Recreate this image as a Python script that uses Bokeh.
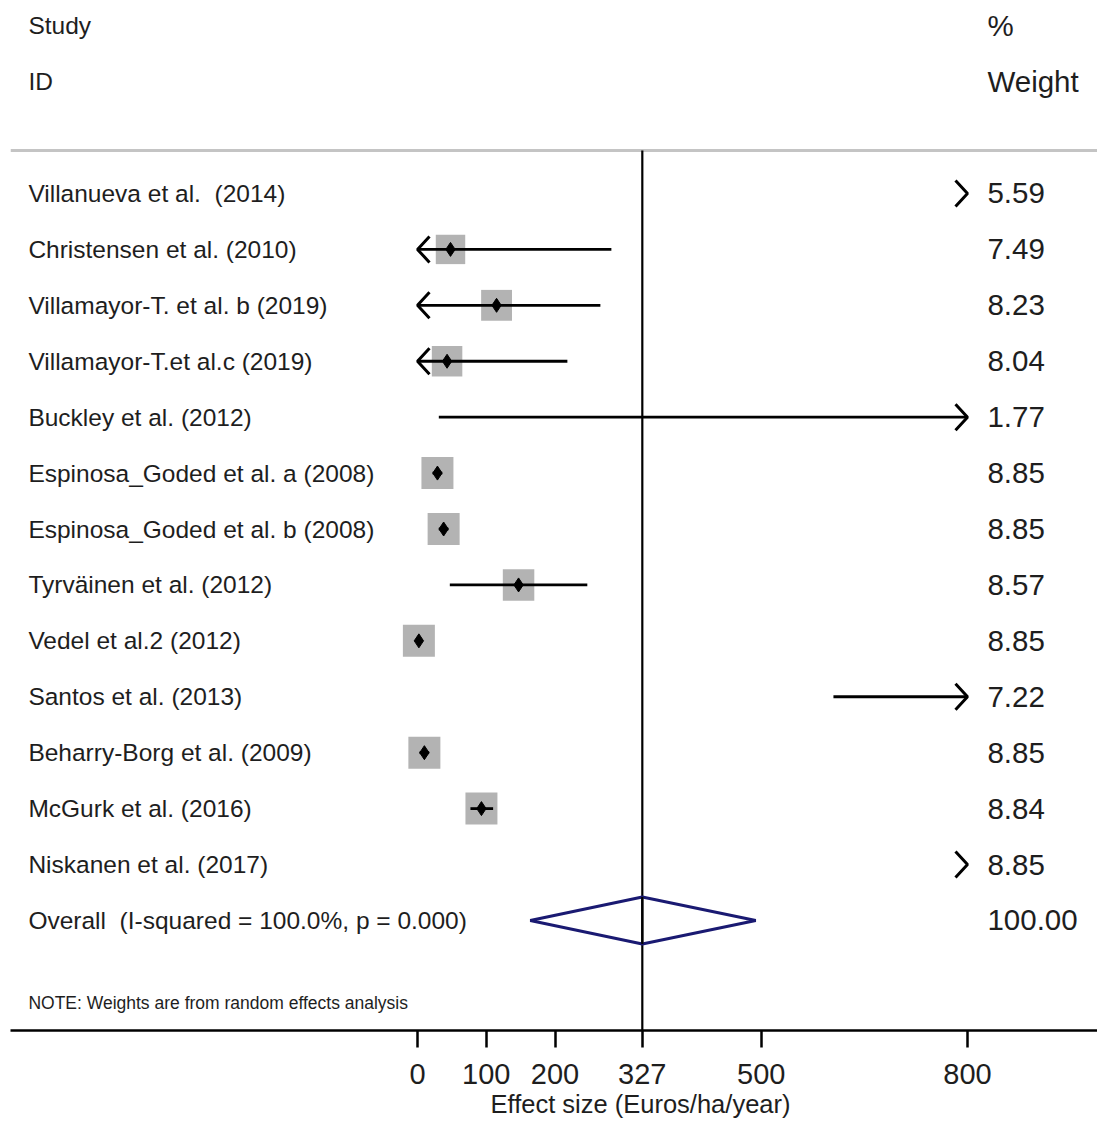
import math
from bokeh.plotting import figure
from bokeh.models import Range1d, FixedTicker, ColumnDataSource, Title
from bokeh.embed import file_html
from bokeh.resources import INLINE
from bokeh.core.properties import value

# ---------------- data ----------------
studies = [
    "Villanueva et al.\u00a0 (2014)",
    "Christensen et al. (2010)",
    "Villamayor-T. et al. b (2019)",
    "Villamayor-T.et al.c (2019)",
    "Buckley et al. (2012)",
    "Espinosa_Goded et al. a (2008)",
    "Espinosa_Goded et al. b (2008)",
    "Tyrväinen et al. (2012)",
    "Vedel et al.2 (2012)",
    "Santos et al. (2013)",
    "Beharry-Borg et al. (2009)",
    "McGurk et al. (2016)",
    "Niskanen et al. (2017)",
]
effect = [1000, 48, 115, 43, 900, 29, 38, 147, 2, 1100, 10, 93, 1050]
ci_low = [850, -150, -110, -130, 31, 22, 31, 47, 0.5, 605, 3, 77, 900]
ci_high = [1150, 282, 266, 218, 1800, 36, 45, 247, 3.5, 1600, 17, 110, 1200]
weights = [5.59, 7.49, 8.23, 8.04, 1.77, 8.85, 8.85, 8.57, 8.85, 7.22, 8.85, 8.84, 8.85]

overall_label = "Overall\u00a0 (I-squared = 100.0%, p = 0.000)"
overall_effect = 327
overall_low = 164
overall_high = 492
overall_weight = 100.00

tick_values = [0, 100, 200, 327, 500, 800]
axis_min, axis_max = 0, 800
note_text = "NOTE: Weights are from random effects analysis"
x_title = "Effect size (Euros/ha/year)"

# ---------------- layout ----------------
W, H = 1097, 1119
BORDER_L = 10
FRAME_W = W - BORDER_L
FRAME_H = 1030
x_start = -592.0
x_end = x_start + FRAME_W / 0.6875
y_bottom, y_top = 15.968, -2.451
ux = (x_end - x_start) / FRAME_W      # data units per px (x)
uy = (y_bottom - y_top) / FRAME_H     # row units per px (y)

LABEL_X = -566
WEIGHT_X = 829
FONT = "Liberation Sans"
TXT = "#1e1e1e"

p = figure(width=W, height=H, output_backend="svg", toolbar_location=None,
           x_range=Range1d(x_start, x_end), y_range=Range1d(y_bottom, y_top),
           min_border_left=BORDER_L, min_border_right=0, min_border_top=0,
           min_border_bottom=H - FRAME_H, background_fill_color="white",
           border_fill_color="white")
p.outline_line_color = None
p.grid.visible = False
p.yaxis.visible = False

ax = p.xaxis[0]
ax.ticker = FixedTicker(ticks=tick_values)
ax.axis_line_width = 2.5
ax.axis_line_color = "black"
ax.major_tick_line_width = 2.5
ax.major_tick_line_color = "black"
ax.major_tick_out = 17
ax.major_tick_in = 0
ax.minor_tick_line_color = None
ax.major_label_text_font = FONT
ax.major_label_text_font_size = "29px"
ax.major_label_text_color = TXT
ax.major_label_standoff = 16

# x-axis title below the axis, centred where the reference has it
p.add_layout(Title(text=x_title, align="left", offset=480, standoff=3,
                   text_font=FONT, text_font_size="25.5px", text_font_style="normal",
                   text_color=TXT), "below")

rows = list(range(1, len(studies) + 1))
overall_row = len(studies) + 1
divider_y = 0.231
note_y = 15.47

# divider line
p.segment(x0=[x_start], x1=[x_end], y0=[divider_y], y1=[divider_y],
          line_color="#c4c4c4", line_width=3)

# reference line at the overall effect
p.segment(x0=[overall_effect], x1=[overall_effect], y0=[divider_y], y1=[y_bottom],
          line_color="black", line_width=2.2)

# boxes (only if estimate on scale)
max_w = max(weights)
bx, by, bs = [], [], []
for e, w, r in zip(effect, weights, rows):
    if axis_min <= e <= axis_max:
        bx.append(e); by.append(r); bs.append(32 * math.sqrt(w / max_w))
p.scatter(x=bx, y=by, size=bs, marker="square", fill_color="#b3b3b3",
          line_color=None)

# confidence intervals (clipped)
sx0, sx1, sy = [], [], []
for lo, hi, r in zip(ci_low, ci_high, rows):
    lo_c, hi_c = max(lo, axis_min), min(hi, axis_max)
    if lo_c < hi_c:
        sx0.append(lo_c); sx1.append(hi_c); sy.append(r)
p.segment(x0=sx0, x1=sx1, y0=sy, y1=sy, line_color="black", line_width=2.8)

# chevrons for clipped CIs
dx, dy = 12 * ux, 13 * uy
cxs, cys = [], []
for lo, hi, r in zip(ci_low, ci_high, rows):
    if lo < axis_min < hi or hi < axis_min:
        cxs.append([axis_min + dx, axis_min, axis_min + dx]); cys.append([r - dy, r, r + dy])
    if hi > axis_max:
        cxs.append([axis_max - dx, axis_max, axis_max - dx]); cys.append([r - dy, r, r + dy])
p.multi_line(xs=cxs, ys=cys, line_color="black", line_width=3)

# point estimates
px_, py_ = [], []
for e, r in zip(effect, rows):
    if axis_min <= e <= axis_max:
        px_.append(e); py_.append(r)
p.scatter(x=px_, y=py_, marker="diamond", size=14, fill_color="black", line_color="black")

# overall diamond
dh = 23.5 * uy
p.patch(x=[overall_low, overall_effect, overall_high, overall_effect],
        y=[overall_row, overall_row - dh, overall_row, overall_row + dh],
        fill_color="white", fill_alpha=0.0, line_color="#1a1a72", line_width=3)
p.segment(x0=[overall_effect], x1=[overall_effect], y0=[overall_row - dh], y1=[overall_row + dh],
          line_color="black", line_width=2.2)

# study labels
lab_src = ColumnDataSource(dict(x=[LABEL_X] * (len(studies) + 1),
                                y=rows + [overall_row],
                                t=studies + [overall_label]))
p.text(x="x", y="y", text="t", source=lab_src, text_font=value(FONT),
       text_font_size="24.5px", text_color=TXT, text_baseline="middle", text_align="left")

# weights
wt_src = ColumnDataSource(dict(x=[WEIGHT_X] * (len(weights) + 1),
                               y=rows + [overall_row],
                               t=[f"{w:.2f}" for w in weights] + [f"{overall_weight:.2f}"]))
p.text(x="x", y="y", text="t", source=wt_src, text_font=value(FONT),
       text_font_size="29.5px", text_color=TXT, text_baseline="middle", text_align="left")

# headers
p.text(x=[LABEL_X, LABEL_X], y=[-2, -1], text=["Study", "ID"], text_font=value(FONT),
       text_font_size="24.5px", text_color=TXT, text_baseline="middle", text_align="left")
p.text(x=[WEIGHT_X, WEIGHT_X], y=[-2, -1], text=["%", "Weight"], text_font=value(FONT),
       text_font_size="29.5px", text_color=TXT, text_baseline="middle", text_align="left")

# note
p.text(x=[LABEL_X], y=[note_y], text=[note_text], text_font=value(FONT),
       text_font_size="17.5px", text_color=TXT, text_baseline="middle", text_align="left")

open("out.html", "w").write(file_html(p, INLINE))
